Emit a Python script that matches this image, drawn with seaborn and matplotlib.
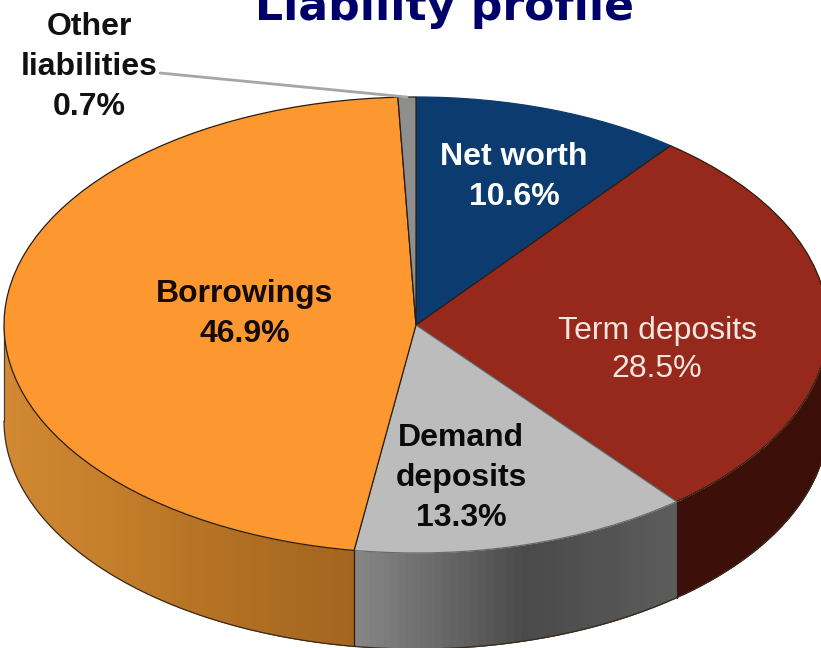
import numpy as np
import matplotlib.pyplot as plt
import seaborn as sns

# Shares in drawing order, clockwise from the top
names = ['Net worth', 'Term deposits', 'Demand\ndeposits', 'Borrowings', 'Other\nliabilities']
shares = [10.6, 28.5, 13.3, 46.9, 0.7]
top_colors = ['#0b3b6f', '#96291c', '#bcbcbc', '#fd9831', '#8e8e8e']

# Side wall gradient, left to right
wall_colors = [['#1c3350', '#10233a'], ['#3d0f09', '#3a0e08'], ['#858585', '#4a4a4a', '#5c5c5c'],
               ['#d68c35', '#c67f2b', '#a4651f'], ['#555555', '#555555']]

title = 'Liability profile'

sns.set_theme(style='white')
plt.rcParams['font.family'] = ['Liberation Sans', 'DejaVu Sans']

W, H = 821, 648
cx, cy, rx, ry = 416, 325, 412, 228
depth = 96 / ry


def px(x, y):
    # picture pixels to pie units
    return (x - cx) / rx, (cy - y) / ry


fig = plt.figure(figsize=(W / 100, H / 100), dpi=100)
ax = fig.add_axes([0, 0, 1, 1])

wedges, _ = ax.pie(shares, colors=top_colors, startangle=90, counterclock=False,
                   wedgeprops={'linewidth': 0.9, 'edgecolor': '#2a1c10', 'zorder': 3})
wedges[0].set_edgecolor('#0b3b6f')
wedges[2].set_edgecolor('#6a6a6a')
ax.set_aspect('auto')
ax.set_xlim(-cx / rx, (W - cx) / rx)
ax.set_ylim((cy - H) / ry, cy / ry)

# Side wall, built from the same shares
edges = 90 - 3.6 * np.concatenate([[0], np.cumsum(shares)])
for i in range(len(shares)):
    hi = min(edges[i], 0)
    lo = max(edges[i + 1], -180)
    if hi <= lo:
        continue
    n = max(int(hi - lo), 2)
    ramp = sns.blend_palette(wall_colors[i], n)
    steps = np.radians(np.linspace(lo, hi, n + 1))
    # left to right colour order, each band runs under the next one
    if np.cos(steps[0]) > np.cos(steps[-1]):
        steps = steps[::-1]
    for j in range(n):
        t = np.linspace(steps[j], steps[min(j + 2, n)], 6)
        ax.fill_between(np.cos(t), np.sin(t), np.sin(t) - depth, color=ramp[j], lw=0, zorder=1)
    t = np.radians(np.linspace(lo, hi, 200))
    ax.plot(np.cos(t), np.sin(t) - depth, color='#3a2a1a', lw=0.9, zorder=2)
    # seam between walls
    for a in (lo, hi):
        if -180 < a < 0:
            r = np.radians(a)
            ax.plot([np.cos(r)] * 2, [np.sin(r), np.sin(r) - depth], color='#2a1c10', lw=0.8, zorder=2)

# Left side of the wall
ax.plot([-1, -1], [0, -depth], color='#4a3a28', lw=0.9, zorder=2)

text_kw = dict(ha='center', va='center', fontweight='bold', fontsize=23, linespacing=1.42, zorder=5)
ax.text(*px(514, 177), f'{names[0]}\n{shares[0]}%', color='white', **text_kw)
ax.text(*px(657, 350), f'{names[1]}\n{shares[1]}%', color='#f3e6df',
        ha='center', va='center', fontsize=23, linespacing=1.38, zorder=5)
ax.text(*px(461, 478), f'{names[2]}\n{shares[2]}%', color='#0a0a0a', **text_kw)
ax.text(*px(245, 314), f'{names[3]}\n{shares[3]}%', color='#140c04', **text_kw)

# Outside label with its leader line
mid = np.radians((edges[4] + edges[5]) / 2)
ax.annotate('', xy=(np.cos(mid), np.sin(mid)), xytext=px(160, 73),
            arrowprops=dict(arrowstyle='-', color='#a6a6a6', lw=2, shrinkA=0, shrinkB=0), zorder=4)
ax.text(*px(89, 67), f'{names[4]}\n{shares[4]}%', color='#111111', **text_kw)

ax.text(*px(444, 20), title, color='#00006b', family='DejaVu Sans', fontweight='bold',
        fontsize=31.8, ha='center', va='baseline', zorder=5)

fig.savefig('out.png', dpi=100)
